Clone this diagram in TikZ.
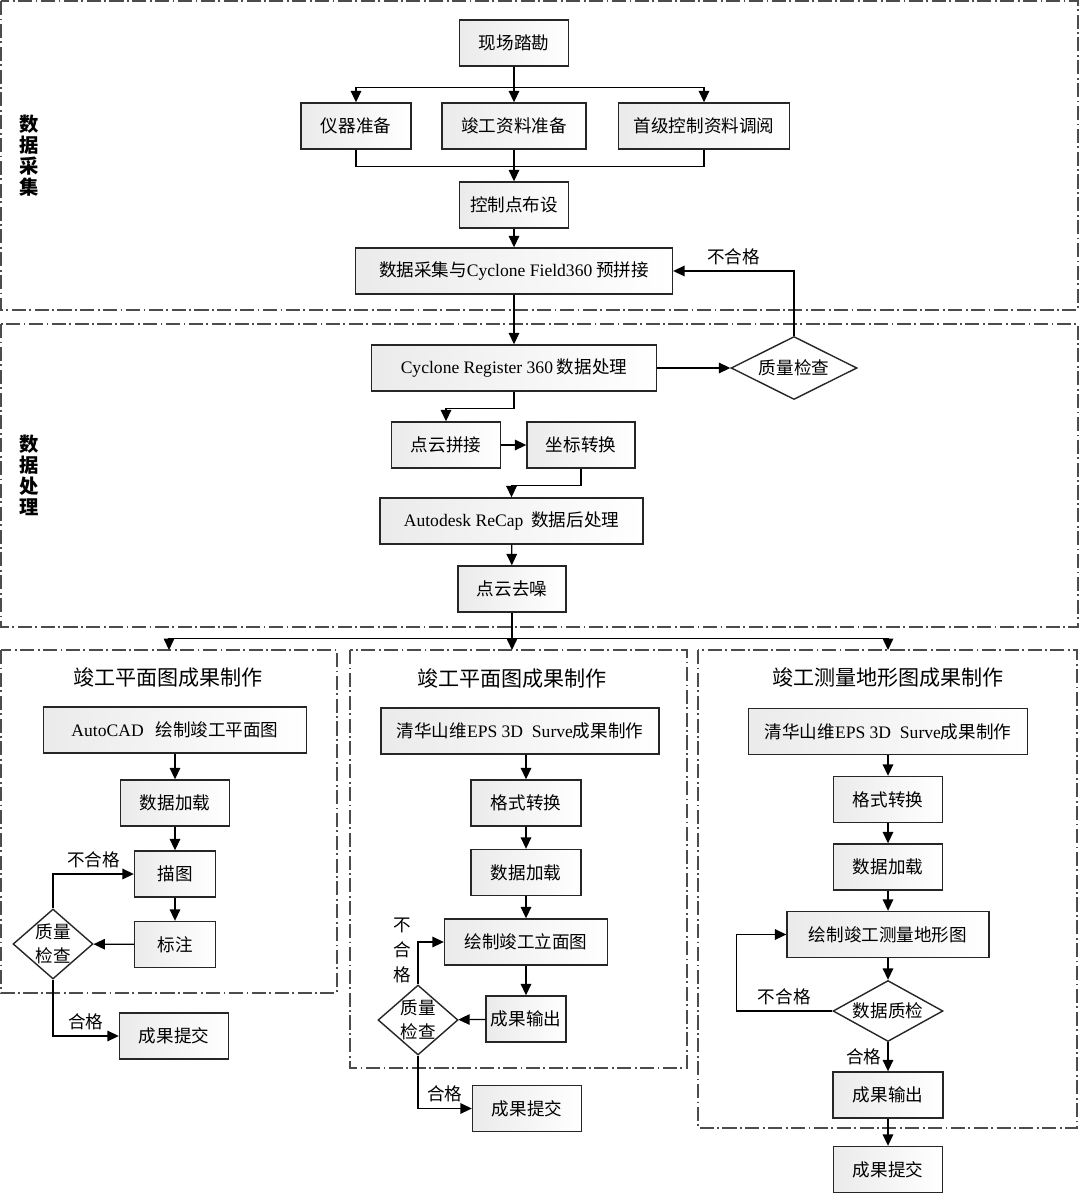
\documentclass[tikz,border=0pt]{standalone}
\usepackage{fontspec}
\setmainfont{Liberation Serif}
\newfontfamily\cjk{Noto Sans CJK SC}
\usetikzlibrary{arrows.meta,shapes.geometric}

\begin{document}
\begin{tikzpicture}[x=0.02cm,y=-0.02cm,
    box/.style={draw=black!85,line width=0.8pt,left color=black!8,right color=white,
      minimum height=0.92cm,inner sep=2pt,font=\fontsize{10}{12}\selectfont\cjk},
    chk/.style={draw=black!85,line width=0.8pt,diamond,inner sep=0pt},
    arr/.style={-{Triangle[length=6.5pt,width=6pt]},line width=0.7pt},
    ln/.style={line width=0.7pt},
    frame/.style={draw=black!70,line width=0.6pt,dash pattern=on 8pt off 2pt on 1pt off 2pt},
    side/.style={font=\fontsize{11}{12}\selectfont\cjk\bfseries,align=center},
    ttl/.style={font=\fontsize{12}{14}\selectfont\cjk},
    lbl/.style={font=\fontsize{10}{14}\selectfont\cjk,align=center}]
  \useasboundingbox (0,0) rectangle (1080,1193);

  % frames
  \draw[frame] (1,1) rectangle (1078,310);
  \draw[frame] (1,324) rectangle (1078,627);
  \draw[frame] (1,650) rectangle (337,993);
  \draw[frame] (350,650) rectangle (687,1068);
  \draw[frame] (698,650) rectangle (1077,1128);
  \node[side] (s1) at (29,156) {数\\据\\采\\集};
  \node[side] (s2) at (29,475) {数\\据\\处\\理};

  % data collection
  \node[box,minimum width=2.18cm] (xc) at (514,43) {现场踏勘};
  \node[box,minimum width=2.2cm] (yq) at (356,126) {仪器准备};
  \node[box,minimum width=2.88cm] (jg) at (514,126) {竣工资料准备};
  \node[box,minimum width=3.42cm] (sj) at (704,126) {首级控制资料调阅};
  \node[box,minimum width=2.18cm] (kz) at (514,205) {控制点布设};
  \node[box,minimum width=6.34cm] (cj) at (514,271) {数据采集与\textrm{Cyclone Field360} 预拼接};
  \draw[arr] (xc) -- (jg);
  \draw[arr] (xc.south) -- ++(0,21) -| (yq);
  \draw[arr] (xc.south) -- ++(0,21) -| (sj);
  \draw[ln] (yq.south) -- ++(0,17) -| (sj.south);
  \draw[arr] (jg) -- (kz);
  \draw[arr] (kz) -- (cj);

  % data processing
  \node[box,minimum width=5.7cm] (cr) at (514,368) {\textrm{Cyclone Register 360} 数据处理};
  \node[chk,minimum width=2.52cm,minimum height=1.26cm,label={[lbl]center:质量检查}] (q0) at (794,368) {};
  \node[box,minimum width=2.18cm] (pj) at (446,445) {点云拼接};
  \node[box,minimum width=2.16cm] (zb) at (581,445) {坐标转换};
  \node[box,minimum width=5.26cm] (rc) at (511.5,521) {\textrm{Autodesk ReCap}\ \ 数据后处理};
  \node[box,minimum width=2.16cm] (qz) at (512,589) {点云去噪};
  \draw[arr] (cj) -- (cr);
  \draw[arr] (cr) -- (q0);
  \draw[arr] (q0.north) |- (cj.east) node[lbl,pos=0.75,above] {不合格};
  \draw[arr] (cr.south) -- ++(0,17) -| (pj);
  \draw[arr] (pj) -- (zb);
  \draw[arr] (zb.south) -- ++(0,17) -| (rc);
  \draw[arr] (rc) -- (qz);

  \coordinate (e1) at (169,650);
  \coordinate (e2) at (512,650);
  \coordinate (e3) at (888,650);
  \draw[arr] (qz) -- (e2);
  \draw[arr] (qz.south) -- ++(0,26) -| (e1);
  \draw[arr] (qz.south) -- ++(0,26) -| (e3);

  % plan
  \node[ttl] (t1) at (168,677) {竣工平面图成果制作};
  \node[box,minimum width=5.26cm] (ac) at (175,730) {\textrm{AutoCAD}\ \ \ 绘制竣工平面图};
  \node[box,minimum width=2.18cm] (jz1) at (175,803) {数据加载};
  \node[box,minimum width=1.62cm] (mt) at (175,874) {描图};
  \node[box,minimum width=1.62cm] (bz) at (175,944.5) {标注};
  \node[chk,minimum width=1.6cm,minimum height=1.4cm,label={[lbl]center:{质量\\检查}}] (q1) at (53,944) {};
  \node[box,minimum width=2.18cm] (tj1) at (174,1036) {成果提交};
  \draw[arr] (ac) -- (jz1);
  \draw[arr] (jz1) -- (mt);
  \draw[arr] (mt) -- (bz);
  \draw[arr] (bz) -- (q1);
  \draw[arr] (q1.north) |- (mt.west) node[lbl,pos=0.75,above] {不合格};
  \draw[arr] (q1.south) |- (tj1.west) node[lbl,pos=0.75,above] {合格};

  % elevation
  \node[ttl] (t2) at (512,678) {竣工平面图成果制作};
  \node[box,minimum width=5.56cm] (eps2) at (520,731) {清华山维\textrm{EPS 3D\ \ Surve}成果制作};
  \node[box,minimum width=2.2cm] (gs2) at (526,803) {格式转换};
  \node[box,minimum width=2.2cm] (jz2) at (526,872.5) {数据加载};
  \node[box,minimum width=3.26cm] (lm) at (526,942) {绘制竣工立面图};
  \node[box,minimum width=1.6cm] (cs2) at (526,1019) {成果输出};
  \node[chk,minimum width=1.6cm,minimum height=1.4cm,label={[lbl]center:{质量\\检查}}] (q2) at (418,1020) {};
  \node[box,minimum width=2.18cm] (tj2) at (527,1108.5) {成果提交};
  \draw[arr] (gs2 |- eps2.south) -- (gs2);
  \draw[arr] (gs2) -- (jz2);
  \draw[arr] (jz2) -- (lm);
  \draw[arr] (lm) -- (cs2);
  \draw[arr] (cs2) -- (q2);
  \draw[arr] (q2.north) |- (lm.west) node[lbl,pos=0.4,left] {不\\合\\格};
  \draw[arr] (q2.south) |- (tj2.west) node[lbl,pos=0.75,above] {合格};

  % topographic map
  \node[ttl] (t3) at (888,677) {竣工测量地形图成果制作};
  \node[box,minimum width=5.58cm] (eps3) at (888,731.5) {清华山维\textrm{EPS 3D\ \ Surve}成果制作};
  \node[box,minimum width=2.18cm] (gs3) at (888,799.5) {格式转换};
  \node[box,minimum width=2.18cm] (jz3) at (888,867) {数据加载};
  \node[box,minimum width=4.04cm] (hz) at (888,934.5) {绘制竣工测量地形图};
  \node[chk,minimum width=2.2cm,minimum height=1.22cm,label={[lbl]center:数据质检}] (q3) at (888,1011) {};
  \node[box,minimum width=2.2cm] (cs3) at (888,1095) {成果输出};
  \node[box,minimum width=2.18cm] (tj3) at (888,1169.5) {成果提交};
  \draw[arr] (eps3) -- (gs3);
  \draw[arr] (gs3) -- (jz3);
  \draw[arr] (jz3) -- (hz);
  \draw[arr] (hz) -- (q3);
  \draw[arr] (q3.west) -- node[lbl,above] {不合格} ++(-96,0) |- (hz.west);
  \draw[arr] (q3) -- node[lbl,left] {合格} (cs3);
  \draw[arr] (cs3) -- (tj3);
\end{tikzpicture}
\end{document}
